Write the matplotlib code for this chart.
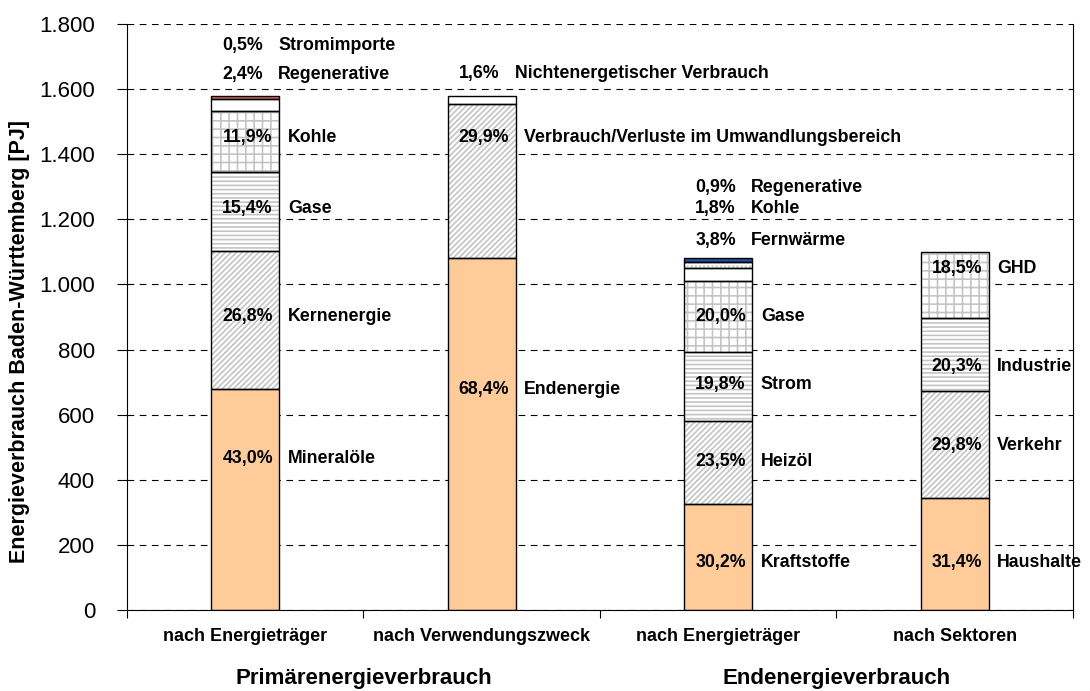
import numpy as np
import matplotlib.pyplot as plt

plt.rcParams['font.family'] = ['Liberation Sans', 'DejaVu Sans']
plt.rcParams['hatch.linewidth'] = 1.2

# categories on the x axis
categories = ['nach Energieträger', 'nach Verwendungszweck', 'nach Energieträger', 'nach Sektoren']
groups = ['Primärenergieverbrauch', 'Endenergieverbrauch']

# stacked segments per bar in PJ, bottom to top
seg_values = [
    [679, 423, 243, 188, 38, 8],
    [1081, 472, 25],
    [326, 254, 214, 216, 41, 19, 10],
    [345, 328, 223, 204],
]
seg_pct = [
    ['43,0%', '26,8%', '15,4%', '11,9%', '2,4%', '0,5%'],
    ['68,4%', '29,9%', '1,6%'],
    ['30,2%', '23,5%', '19,8%', '20,0%', '3,8%', '1,8%', '0,9%'],
    ['31,4%', '29,8%', '20,3%', '18,5%'],
]
seg_names = [
    ['Mineralöle', 'Kernenergie', 'Gase', 'Kohle', 'Regenerative', 'Stromimporte'],
    ['Endenergie', 'Verbrauch/Verluste im Umwandlungsbereich', 'Nichtenergetischer Verbrauch'],
    ['Kraftstoffe', 'Heizöl', 'Strom', 'Gase', 'Fernwärme', 'Kohle', 'Regenerative'],
    ['Haushalte', 'Verkehr', 'Industrie', 'GHD'],
]

# styling per segment: (facecolor, hatch)
seg_styles = [
    [('#FFCC99', ''), ('white', '//////'), ('white', '----'), ('white', '++'), ('white', ''), ('#E06060', '')],
    [('#FFCC99', ''), ('white', '//////'), ('white', '')],
    [('#FFCC99', ''), ('white', '//////'), ('white', '----'), ('white', '++'), ('white', ''), ('white', '....'), ('#1F4E9A', '')],
    [('#FFCC99', ''), ('white', '//////'), ('white', '----'), ('white', '++')],
]
# label heights (PJ); labels of thin top segments sit above the bar
label_y = [
    [464, 900, 1232, 1450, 1646, 1735],
    [676, 1450, 1649],
    [147, 455, 694, 900, 1136, 1232, 1299],
    [147, 504, 749, 1050],
]
label_inside = [
    [True, True, True, True, False, False],
    [True, True, False],
    [True, True, True, True, False, False, False],
    [True, True, True, True],
]

fig, ax = plt.subplots(figsize=(10.9, 6.91), dpi=100)
fig.subplots_adjust(left=0.1165, right=0.9844, top=0.9653, bottom=0.1172)

x = np.arange(len(categories))
width = 0.2875
fs = 12.8
for i in range(len(categories)):
    bottom = 0
    for v, (fc, h) in zip(seg_values[i], seg_styles[i]):
        ax.bar(x[i], v, width, bottom=bottom, color=fc, hatch=h,
               edgecolor='#C4C4C4', linewidth=0, zorder=2)
        ax.bar(x[i], v, width, bottom=bottom, fill=False,
               edgecolor='black', linewidth=1, zorder=3)
        bottom += v
    for p, n, yy, ins in zip(seg_pct[i], seg_names[i], label_y[i], label_inside[i]):
        if ins:
            ax.text(x[i] + 0.01, yy, p, ha='center', va='center', fontsize=fs,
                    fontweight='bold', zorder=4)
            ax.text(x[i] + 0.18, yy, n, ha='left', va='center', fontsize=fs,
                    fontweight='bold', zorder=4)
        else:
            ax.text(x[i] + 0.075, yy, p, ha='right', va='center', fontsize=fs,
                    fontweight='bold', zorder=4)
            ax.text(x[i] + 0.14, yy, n, ha='left', va='center', fontsize=fs,
                    fontweight='bold', zorder=4)

ax.set_xlim(-0.5, 3.5)
ax.set_ylim(0, 1800)
yt = np.arange(0, 1801, 200)
ax.set_yticks(yt)
ax.set_yticklabels([f'{v:,}'.replace(',', '.') for v in yt], fontsize=16)
ax.yaxis.grid(True, linestyle=(0, (6, 5)), color='black', linewidth=0.8, zorder=0)
ax.set_axisbelow(True)

ax.set_xticks([-0.5, 0.5, 1.5, 2.5, 3.5])
ax.set_xticklabels([])
ax.tick_params(axis='x', direction='out', length=6)
ax.tick_params(axis='y', direction='out', length=7, pad=16)
ax.tick_params(right=False)
for i, c in enumerate(categories):
    ax.text(x[i], -0.045, c, transform=ax.get_xaxis_transform(), ha='center',
            va='center', fontsize=13, fontweight='bold')
for gi, g in enumerate(groups):
    ax.text(2 * gi + 0.5, -0.117, g, transform=ax.get_xaxis_transform(), ha='center',
            va='center', fontsize=16, fontweight='bold')

ax.spines['top'].set_visible(False)
ax.set_ylabel('Energieverbrauch Baden-Württemberg [PJ]', fontsize=15.5,
              fontweight='bold')
ax.yaxis.set_label_coords(-0.102, 0.459)

plt.savefig('out.png', dpi=100)
